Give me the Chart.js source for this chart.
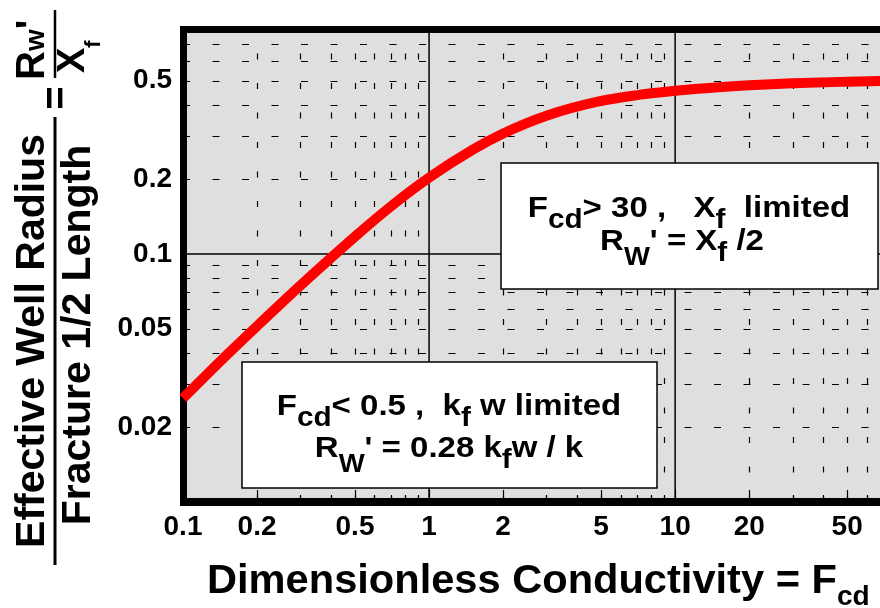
<!DOCTYPE html>
<html>
<head>
<meta charset="utf-8">
<script src="https://cdn.jsdelivr.net/npm/chart.js@4.4.1/dist/chart.umd.min.js"></script>
<style>
  html, body { margin: 0; padding: 0; background: #ffffff; }
  #wrap { width: 880px; height: 608px; }
</style>
</head>
<body>
<div id="wrap"><canvas id="c" width="880" height="608"></canvas></div>
<script>
// ---- data ----
const fcdValues = [0.1, 0.15, 0.2, 0.3, 0.5, 0.7, 1, 1.5, 2, 3, 5, 7, 10, 15, 20, 30, 50, 70];
const rwRatio   = [0.0262, 0.039, 0.0512, 0.0746, 0.1175, 0.1556, 0.203, 0.2628, 0.306, 0.361, 0.414, 0.437, 0.455, 0.4705, 0.479, 0.488, 0.495, 0.4985];
const xTickValues = [0.1, 0.2, 0.5, 1, 2, 5, 10, 20, 50];
const yTickValues = [0.02, 0.05, 0.1, 0.2, 0.5];
const xMinorGrid = [0.2, 0.3, 0.4, 0.5, 0.6, 0.7, 0.8, 0.9, 2, 3, 4, 5, 6, 7, 8, 9, 20, 30, 40, 50, 60];
const yMinorGrid = [0.02, 0.03, 0.04, 0.05, 0.06, 0.07, 0.08, 0.09, 0.2, 0.3, 0.4, 0.5, 0.6, 0.7, 0.8];
const xMajorGrid = [1, 10];
const yMajorGrid = [0.1];
const xTickMarks = [0.2, 0.3, 0.4, 0.5, 0.6, 0.7, 0.8, 0.9, 1, 2, 3, 4, 5, 6, 7, 8, 9, 10, 20, 30, 40, 50, 60];

const FONT = '"Liberation Sans", Arial, Helvetica, sans-serif';

function drawRich(ctx, segs, x, y, align, sx) {
  let w = 0;
  segs.forEach(s => {
    ctx.font = 'bold ' + s.size + 'px ' + FONT;
    s.w = ctx.measureText(s.t).width;
    w += s.w;
  });
  const start = align === 'center' ? x - w * sx / 2 : x;
  ctx.save();
  ctx.translate(start, y);
  ctx.scale(sx, 1);
  ctx.textAlign = 'left';
  ctx.textBaseline = 'alphabetic';
  let px = 0;
  segs.forEach(s => {
    ctx.font = 'bold ' + s.size + 'px ' + FONT;
    ctx.fillText(s.t, px, s.dy || 0);
    px += s.w;
  });
  ctx.restore();
}

const decorPlugin = {
  id: 'decor',
  beforeDatasetsDraw(chart) {
    const ctx = chart.ctx;
    const a = chart.chartArea;
    const xs = chart.scales.x, ys = chart.scales.y;
    ctx.save();
    // plot background
    ctx.fillStyle = '#dfdfdf';
    ctx.fillRect(a.left, a.top, a.right - a.left, a.bottom - a.top);
    ctx.strokeStyle = '#000';
    // dashed minor grid (horizontal)
    ctx.lineWidth = 1.2;
    ctx.setLineDash([7, 22.5]);
    yMinorGrid.forEach(v => {
      const py = Math.round(ys.getPixelForValue(v)) + 0.5;
      ctx.beginPath(); ctx.moveTo(a.left, py); ctx.lineTo(a.right, py); ctx.stroke();
    });
    // dashed minor grid (vertical)
    ctx.setLineDash([6, 23.5]);
    xMinorGrid.forEach(v => {
      const px = Math.round(xs.getPixelForValue(v)) + 0.5;
      ctx.beginPath(); ctx.moveTo(px, a.bottom); ctx.lineTo(px, a.top); ctx.stroke();
    });
    ctx.setLineDash([]);
    // major grid
    ctx.lineWidth = 1.5;
    xMajorGrid.forEach(v => {
      const px = xs.getPixelForValue(v);
      ctx.beginPath(); ctx.moveTo(px, a.bottom); ctx.lineTo(px, a.top); ctx.stroke();
    });
    yMajorGrid.forEach(v => {
      const py = ys.getPixelForValue(v);
      ctx.beginPath(); ctx.moveTo(a.left, py); ctx.lineTo(a.right, py); ctx.stroke();
    });
    // inside tick marks on the bottom axis
    ctx.lineWidth = 1.2;
    xTickMarks.forEach(v => {
      const px = Math.round(xs.getPixelForValue(v)) + 0.5;
      const len = xTickValues.includes(v) ? 12 : 7;
      ctx.beginPath(); ctx.moveTo(px, a.bottom); ctx.lineTo(px, a.bottom - len); ctx.stroke();
    });
    // text boxes
    ctx.fillStyle = '#ffffff';
    ctx.lineWidth = 1.5;
    const boxes = [
      { l: 501, t: 163, r: 878, b: 289 },
      { l: 242, t: 362, r: 657, b: 488 }
    ];
    boxes.forEach(b => {
      ctx.fillRect(b.l, b.t, b.r - b.l, b.b - b.t);
      ctx.strokeRect(b.l, b.t, b.r - b.l, b.b - b.t);
    });
    ctx.fillStyle = '#000';
    drawRich(ctx, [
      { t: 'F', size: 30 }, { t: 'cd', size: 27, dy: 11 },
      { t: '> 30 ,   X', size: 30 }, { t: 'f', size: 27, dy: 11 },
      { t: '  limited', size: 30 }
    ], 689, 217, 'center', 1.1);
    drawRich(ctx, [
      { t: 'R', size: 30 }, { t: 'W', size: 25, dy: 15 },
      { t: "' = X", size: 30 }, { t: 'f', size: 27, dy: 11 },
      { t: ' /2', size: 30 }
    ], 682, 250, 'center', 1.1);
    drawRich(ctx, [
      { t: 'F', size: 30 }, { t: 'cd', size: 27, dy: 11 },
      { t: '< 0.5 ,  k', size: 30 }, { t: 'f', size: 27, dy: 11 },
      { t: ' w limited', size: 30 }
    ], 449, 415, 'center', 1.1);
    drawRich(ctx, [
      { t: 'R', size: 30 }, { t: 'W', size: 25, dy: 15 },
      { t: "' = 0.28 k", size: 30 }, { t: 'f', size: 27, dy: 11 },
      { t: 'w / k', size: 30 }
    ], 449, 457, 'center', 1.1);
    // thick frame
    ctx.lineWidth = 7;
    ctx.beginPath(); ctx.moveTo(180, 29.5); ctx.lineTo(880, 29.5); ctx.stroke();
    ctx.beginPath(); ctx.moveTo(183.5, 26); ctx.lineTo(183.5, 506); ctx.stroke();
    ctx.lineWidth = 8;
    ctx.beginPath(); ctx.moveTo(180, 502); ctx.lineTo(880, 502); ctx.stroke();
    ctx.restore();
  },
  afterDraw(chart) {
    const ctx = chart.ctx;
    ctx.save();
    ctx.fillStyle = '#000';
    ctx.strokeStyle = '#000';
    // x axis title
    drawRich(ctx, [
      { t: 'Dimensionless Conductivity = F', size: 40 },
      { t: 'cd', size: 27, dy: 12 }
    ], 207, 593, 'left', 1.04);
    // y axis title (rotated)
    const rot = (bx, by, segs, align) => {
      ctx.save(); ctx.translate(bx, by); ctx.rotate(-Math.PI / 2);
      drawRich(ctx, segs, 0, 0, align, 1);
      ctx.restore();
    };
    rot(44, 341, [{ t: 'Effective Well Radius', size: 41 }], 'center');
    rot(90, 335, [{ t: 'Fracture 1/2 Length', size: 41 }], 'center');
    rot(69, 98, [{ t: '=', size: 40 }], 'center');
    rot(43.5, 80, [{ t: 'R', size: 40 }, { t: 'w', size: 28 }, { t: "'", size: 40 }], 'left');
    rot(84, 73, [{ t: 'X', size: 38 }, { t: 'f', size: 22, dy: 16 }], 'left');
    ctx.lineWidth = 3;
    ctx.beginPath(); ctx.moveTo(55, 117); ctx.lineTo(55, 565); ctx.stroke();
    ctx.lineWidth = 2.5;
    ctx.beginPath(); ctx.moveTo(55, 10); ctx.lineTo(55, 78); ctx.stroke();
    ctx.restore();
  }
};

const chart = new Chart(document.getElementById('c'), {
  type: 'line',
  data: {
    datasets: [{
      data: fcdValues.map((x, i) => ({ x: x, y: rwRatio[i] })),
      borderColor: '#ff0000',
      borderWidth: 10,
      pointRadius: 0,
      fill: false,
      cubicInterpolationMode: 'monotone',
      clip: false
    }]
  },
  options: {
    responsive: false,
    animation: false,
    devicePixelRatio: 1,
    layout: { padding: { top: 30, right: 0, left: 0, bottom: 0 } },
    plugins: { legend: { display: false }, tooltip: { enabled: false } },
    scales: {
      x: {
        type: 'logarithmic',
        min: 0.1,
        max: 68,
        afterBuildTicks: s => { s.ticks = xTickValues.map(v => ({ value: v })); },
        afterFit: s => { s.height = 106; },
        grid: { display: false, drawTicks: false },
        border: { display: false },
        ticks: {
          autoSkip: false,
          maxRotation: 0,
          padding: 8,
          color: '#000',
          font: { family: FONT, size: 28, weight: 'bold' },
          callback: v => String(v)
        }
      },
      y: {
        type: 'logarithmic',
        min: 0.01,
        max: 0.8,
        afterBuildTicks: s => { s.ticks = yTickValues.map(v => ({ value: v })); },
        afterFit: s => { s.width = 183; },
        grid: { display: false, drawTicks: false },
        border: { display: false },
        ticks: {
          autoSkip: false,
          padding: 11,
          color: '#000',
          font: { family: FONT, size: 28, weight: 'bold' },
          callback: v => String(v)
        }
      }
    }
  },
  plugins: [decorPlugin]
});
</script>
</body>
</html>
